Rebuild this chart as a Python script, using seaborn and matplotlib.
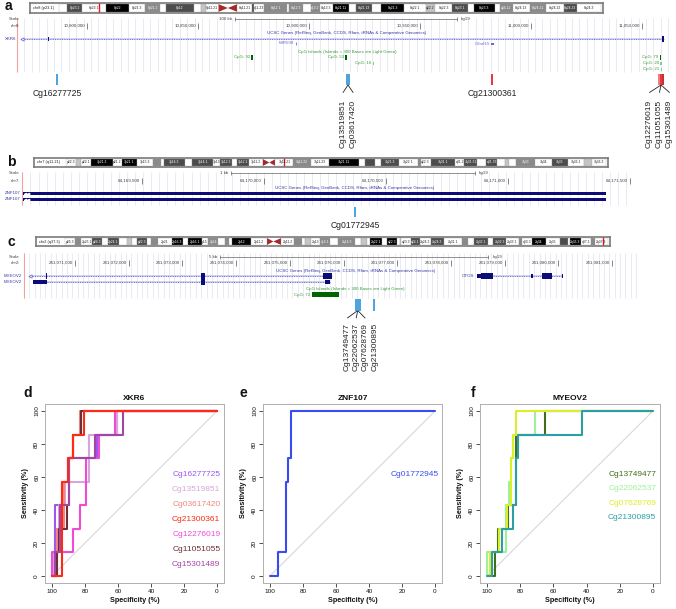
import numpy as np
import pandas as pd
import matplotlib
matplotlib.use("Agg")
import matplotlib.pyplot as plt
import matplotlib.transforms as mtransforms
import seaborn as sns

# ======================= DATA =======================
# --- ideogram bands (band end in Mb, band name, stain) ---
chr8_band_end = [2.2, 6.2, 12.7, 19.0, 23.3, 27.4, 28.8, 36.5, 38.3, 39.7,
                 43.1, 45.6, 48.1, 52.2, 52.6, 55.5, 61.6, 62.2, 66.0, 68.0,
                 70.5, 73.9, 78.3, 80.1, 84.6, 86.9, 93.3, 99.0, 101.6, 106.2,
                 110.5, 112.1, 117.7, 119.2, 122.5, 127.3, 131.5, 136.4, 139.9, 146.4]
chr8_band_name = ['p23.3', 'p23.2', 'p23.1', 'p22', 'p21.3', 'p21.2', 'p21.1', 'p12', 'p11.23', 'p11.22',
                  'p11.21', 'p11.1', 'q11.1', 'q11.21', 'q11.22', 'q11.23', 'q12.1', 'q12.2', 'q12.3', 'q13.1',
                  'q13.2', 'q13.3', 'q21.11', 'q21.12', 'q21.13', 'q21.2', 'q21.3', 'q22.1', 'q22.2', 'q22.3',
                  'q23.1', 'q23.2', 'q23.3', 'q24.11', 'q24.12', 'q24.13', 'q24.21', 'q24.22', 'q24.23', 'q24.3']
chr8_band_stain = ['gneg', 'gpos75', 'gneg', 'gpos100', 'gneg', 'gpos50', 'gneg', 'gpos75', 'gneg', 'gpos25',
                   'gneg', 'acen', 'acen', 'gneg', 'gpos75', 'gneg', 'gpos50', 'gneg', 'gpos50', 'gneg',
                   'gpos50', 'gneg', 'gpos100', 'gneg', 'gpos75', 'gneg', 'gpos100', 'gneg', 'gpos25', 'gneg',
                   'gpos75', 'gneg', 'gpos100', 'gneg', 'gpos50', 'gneg', 'gpos50', 'gneg', 'gpos75', 'gneg']

chr7_band_end = [2.8, 4.5, 7.3, 13.8, 16.5, 20.9, 25.5, 28.0, 28.8, 35.0,
                 37.2, 43.3, 45.4, 49.0, 50.5, 54.0, 58.0, 59.9, 61.7, 67.0,
                 72.2, 77.5, 86.4, 88.2, 91.1, 92.8, 98.0, 103.8, 104.5, 107.4,
                 114.6, 117.4, 121.1, 123.8, 127.1, 129.2, 130.4, 132.6, 138.2, 143.1,
                 147.9, 152.6, 155.1, 159.1]
chr7_band_name = ['p22.3', 'p22.2', 'p22.1', 'p21.3', 'p21.2', 'p21.1', 'p15.3', 'p15.2', 'p15.1', 'p14.3',
                  'p14.2', 'p14.1', 'p13', 'p12.3', 'p12.2', 'p12.1', 'p11.2', 'p11.1', 'q11.1', 'q11.21',
                  'q11.22', 'q11.23', 'q21.11', 'q21.12', 'q21.13', 'q21.2', 'q21.3', 'q22.1', 'q22.2', 'q22.3',
                  'q31.1', 'q31.2', 'q31.31', 'q31.32', 'q31.33', 'q32.1', 'q32.2', 'q32.3', 'q33', 'q34',
                  'q35', 'q36.1', 'q36.2', 'q36.3']
chr7_band_stain = ['gneg', 'gpos25', 'gneg', 'gpos100', 'gneg', 'gpos100', 'gneg', 'gpos50', 'gneg', 'gpos75',
                   'gneg', 'gpos75', 'gneg', 'gpos75', 'gneg', 'gpos75', 'gneg', 'acen', 'acen', 'gneg',
                   'gpos50', 'gneg', 'gpos100', 'gneg', 'gpos75', 'gneg', 'gpos75', 'gneg', 'gpos50', 'gneg',
                   'gpos75', 'gneg', 'gpos75', 'gneg', 'gpos75', 'gneg', 'gpos25', 'gneg', 'gpos50', 'gneg',
                   'gpos75', 'gneg', 'gpos25', 'gneg']

chr2_band_end = [4.4, 7.1, 12.2, 16.7, 19.2, 24.0, 27.9, 30.0, 32.1, 36.6,
                 38.6, 41.8, 47.8, 52.9, 55.0, 61.3, 64.1, 68.6, 71.5, 73.5,
                 75.0, 83.3, 90.5, 93.3, 96.8, 102.7, 106.0, 107.5, 110.2, 114.4,
                 118.8, 122.4, 129.9, 132.5, 135.1, 136.8, 142.2, 144.1, 148.7, 149.9,
                 150.5, 154.9, 159.0, 163.9, 169.7, 178.0, 180.6, 183.0, 189.4, 191.9,
                 197.4, 203.3, 204.9, 209.0, 215.3, 221.5, 225.2, 226.1, 231.0, 235.6,
                 237.3, 243.2]
chr2_band_name = ['p25.3', 'p25.2', 'p25.1', 'p24.3', 'p24.2', 'p24.1', 'p23.3', 'p23.2', 'p23.1', 'p22.3',
                  'p22.2', 'p22.1', 'p21', 'p16.3', 'p16.2', 'p16.1', 'p15', 'p14', 'p13.3', 'p13.2',
                  'p13.1', 'p12', 'p11.2', 'p11.1', 'q11.1', 'q11.2', 'q12.1', 'q12.2', 'q12.3', 'q13',
                  'q14.1', 'q14.2', 'q14.3', 'q21.1', 'q21.2', 'q21.3', 'q22.1', 'q22.2', 'q22.3', 'q23.1',
                  'q23.2', 'q23.3', 'q24.1', 'q24.2', 'q24.3', 'q31.1', 'q31.2', 'q31.3', 'q32.1', 'q32.2',
                  'q32.3', 'q33.1', 'q33.2', 'q33.3', 'q34', 'q35', 'q36.1', 'q36.2', 'q36.3', 'q37.1',
                  'q37.2', 'q37.3']
chr2_band_stain = ['gneg', 'gpos50', 'gneg', 'gpos75', 'gneg', 'gpos75', 'gneg', 'gpos25', 'gneg', 'gpos75',
                   'gneg', 'gpos50', 'gneg', 'gpos100', 'gneg', 'gpos100', 'gneg', 'gpos50', 'gneg', 'gpos50',
                   'gneg', 'gpos100', 'gneg', 'acen', 'acen', 'gneg', 'gpos50', 'gneg', 'gpos25', 'gneg',
                   'gpos50', 'gneg', 'gpos50', 'gneg', 'gpos25', 'gneg', 'gpos100', 'gneg', 'gpos100', 'gneg',
                   'gpos25', 'gneg', 'gpos75', 'gneg', 'gpos75', 'gneg', 'gpos50', 'gneg', 'gpos75', 'gneg',
                   'gpos75', 'gneg', 'gpos50', 'gneg', 'gpos100', 'gneg', 'gpos75', 'gneg', 'gpos100', 'gneg',
                   'gpos50', 'gneg']

ideo_labels = ['chr8 (p23.1)', 'chr7 (q11.21)', 'chr2 (q37.3)']
ideo_marks = [10.92, 64.17, 241.07]

# --- panel a : XKR6 (chr8) ---
a_window = [10768500, 11064000]
a_ticks = [10800000, 10850000, 10900000, 10950000, 11000000, 11050000]
a_scalebar = [10866700, 100000]
a_gene_span = [10770700, 11059900]
a_exon_start = [10782300, 11058900]
a_exon_len = [250, 1000]
a_exon_kind = ['utr', 'cds']
a_mir = ('MIR598', 10894150)
a_small_gene = ('C8orf15', 10982200)
a_cpg_name = ['CpG: 92', 'CpG: 53', 'CpG: 16', 'CpG: 79', 'CpG: 20', 'CpG: 21']
a_cpg_start = [10874000, 10916300, 10928700, 11057900, 11058300, 11058400]
a_cpg_len = [700, 600, 250, 700, 250, 250]
a_probe_name = ['Cg16277725', 'Cg13519851', 'Cg03617420', 'Cg21300361',
                'Cg12276019', 'Cg11051055', 'Cg15301489']
a_probe_pos = [10786500, 10917150, 10918050, 10982400, 11057650, 11058550, 11059450]
a_probe_group = [0, 1, 1, 2, 3, 3, 3]

# --- panel b : ZNF107 (chr7) ---
b_window = [64169010, 64171512]
b_ticks = [64169500, 64170000, 64170500, 64171000, 64171500]
b_scalebar = [64169865, 1000]
b_tx_span = [64169012, 64171401]
b_probe_name = ['Cg01772945']
b_probe_pos = [64170373]

# --- panel c : MYEOV2 (chr2) ---
c_window = [241070050, 241081480]
c_ticks = [241071000, 241072000, 241073000, 241074000, 241075000, 241076000,
           241077000, 241078000, 241079000, 241080000, 241081000]
c_scalebar = [241073700, 5000]
c_tx1_span = [241070160, 241075790]
c_tx1_exon_start = [241070460, 241073340, 241075620]
c_tx1_exon_len = [25, 80, 170]
c_tx1_exon_kind = ['cds', 'cds', 'cds']
c_tx2_span = [241070220, 241075750]
c_tx2_exon_start = [241070220, 241073340, 241075650]
c_tx2_exon_len = [260, 80, 100]
c_tx2_exon_kind = ['utr', 'cds', 'utr']
c_otos_span = [241078480, 241080090]
c_otos_exon_start = [241078480, 241078560, 241079500, 241079700, 241080060]
c_otos_exon_len = [300, 220, 25, 180, 30]
c_otos_exon_kind = ['utr', 'cds', 'utr', 'cds', 'utr']
c_cpg_name = ['CpG: 72']
c_cpg_start = [241075413]
c_cpg_len = [503]
c_probe_name = ['Cg13749477', 'Cg22062537', 'Cg07628769', 'Cg21300895']
c_probe_pos = [241076230, 241076265, 241076300, 241076570]
c_probe_group = [0, 0, 0, 1]

# --- ROC curves (specificity %, sensitivity %) ---
d_names = ['Cg16277725', 'Cg13519851', 'Cg03617420', 'Cg21300361',
           'Cg12276019', 'Cg11051055', 'Cg15301489']
d_spec = [
    [100, 98.4, 98.4, 94, 94, 90, 90, 73, 73, 60.6, 60.6, 0],
    [100, 99, 99, 97, 97, 96, 96, 92, 92, 77.8, 77.8, 60.6, 60.6, 0],
    [100, 97, 97, 93, 93, 90, 90, 87, 87, 82.8, 82.8, 0],
    [100, 94, 94, 90, 90, 87.3, 87.3, 80.8, 80.8, 0],
    [100, 100, 87.3, 87.3, 82.8, 82.8, 79.2, 79.2, 71.3, 71.3, 62, 62, 0],
    [100, 97, 97, 96, 96, 91, 91, 89.9, 89.9, 87.3, 87.3, 82.2, 82.2, 0],
    [100, 98, 98, 95, 95, 89.9, 89.9, 73.7, 73.7, 57.2, 57.2, 0],
]
d_sens = [
    [0, 0, 42.9, 42.9, 57.1, 57.1, 71.4, 71.4, 85.7, 85.7, 100, 100],
    [0, 0, 14.3, 14.3, 28.6, 28.6, 42.9, 42.9, 57.1, 57.1, 85.7, 85.7, 100, 100],
    [0, 0, 28.6, 28.6, 57.1, 57.1, 71.4, 71.4, 85.7, 85.7, 100, 100],
    [0, 0, 57.1, 57.1, 71.4, 71.4, 85.7, 85.7, 100, 100],
    [0, 14.3, 14.3, 28.6, 28.6, 42.9, 42.9, 71.4, 71.4, 85.7, 85.7, 100, 100],
    [0, 0, 14.3, 14.3, 28.6, 28.6, 42.9, 42.9, 71.4, 71.4, 85.7, 85.7, 100, 100],
    [0, 0, 14.3, 14.3, 42.9, 42.9, 71.4, 71.4, 85.7, 85.7, 100, 100],
]
e_names = ['Cg01772945']
e_spec = [[100, 95.4, 95.4, 90.5, 90.5, 88.9, 88.9, 87, 87, 0]]
e_sens = [[0, 0, 14.3, 14.3, 57.1, 57.1, 71.4, 71.4, 100, 100]]
f_names = ['Cg13749477', 'Cg22062537', 'Cg07628769', 'Cg21300895']
f_spec = [
    [100, 95.4, 95.4, 93.3, 93.3, 87.3, 87.3, 82.3, 82.3, 65.1, 65.1, 0],
    [100, 100, 88.7, 88.7, 86.7, 86.7, 85.3, 85.3, 84.3, 84.3, 71.2, 71.2, 0],
    [100, 98, 98, 93, 93, 88, 88, 85.3, 85.3, 84.3, 84.3, 82.3, 82.3, 0],
    [100, 97, 97, 90.7, 90.7, 84.3, 84.3, 82.7, 82.7, 81.3, 81.3, 42.7, 42.7, 0],
]
f_sens = [
    [0, 0, 14.3, 14.3, 28.6, 28.6, 42.9, 42.9, 85.7, 85.7, 100, 100],
    [0, 14.3, 14.3, 42.9, 42.9, 57.1, 57.1, 71.4, 71.4, 85.7, 85.7, 100, 100],
    [0, 0, 14.3, 14.3, 28.6, 28.6, 42.9, 42.9, 71.4, 71.4, 85.7, 85.7, 100, 100],
    [0, 0, 14.3, 14.3, 28.6, 28.6, 42.9, 42.9, 71.4, 71.4, 85.7, 85.7, 100, 100],
]
roc_ticks = [0, 20, 40, 60, 80, 100]

# ======================= STYLE =======================
d_colors = ['#9b57f0', '#d6a6da', '#f2867c', '#ff2a14', '#f24ad8', '#6c2f38', '#a246a6']
e_colors = ['#3a4cf0']
f_colors = ['#3f6e1e', '#9ef09a', '#dcee2a', '#2b9fa6']
BLUE_PROBE = '#3a9bdc'
a_probe_color = [BLUE_PROBE, BLUE_PROBE, BLUE_PROBE, '#e8252b', '#f07070', '#e3262b', '#c81818']
STAIN = {'gneg': '#ffffff', 'gpos25': '#c4c4c4', 'gpos50': '#8a8a8a',
         'gpos75': '#4c4c4c', 'gpos100': '#000000'}
NAVY = '#0c0c78'
GENE_TXT = '#3535a8'
CPG_TXT = '#3a9a3a'
TXT = '#404040'
FS = 3.2
EXON_H = {'cds': 5.5, 'utr': 3.5}

sns.set_theme(style='white')
plt.rcParams['font.family'] = ['Liberation Sans', 'DejaVu Sans']

W, H = 676, 609
fig = plt.figure(figsize=(W / 100, H / 100), dpi=100)


def px_axes(x0, y0, x1, y1):
    return fig.add_axes([x0 / W, 1 - y1 / H, (x1 - x0) / W, (y1 - y0) / H])


def letter(x, y, t):
    fig.text(x / W, 1 - y / H, t, fontsize=10, fontweight='bold', ha='center', va='center', color='#111')


def ideogram(box, band, yy, ends, names, stains, mark, label, num):
    x0, x1 = box
    b0, b1 = band
    ax = px_axes(x0, yy[0], x1, yy[1])
    total = ends[-1]
    sc = total / (b1 - b0)
    ax.set_xlim(-(b0 - x0) * sc, total + (x1 - b1) * sc)
    ax.set_ylim(0, 1)
    starts = [0] + ends[:-1]
    for st, en, nm, sn in zip(starts, ends, names, stains):
        if sn == 'acen':
            if nm.startswith('p'):
                ax.fill([st, st, en], [0.12, 0.88, 0.5], color='#a32a2a', lw=0)
            else:
                ax.fill([st, en, en], [0.5, 0.88, 0.12], color='#a32a2a', lw=0)
            continue
        ax.bar(st, 0.76, width=en - st, bottom=0.12, align='edge', color=STAIN[sn],
               edgecolor='#9a9a9a', lw=0.2)
        wpx = (en - st) / sc
        full = num + nm
        txt = full if len(full) * 1.75 < wpx else (nm if len(nm) * 1.75 < wpx else None)
        if txt:
            ax.text((st + en) / 2, 0.5, txt, ha='center', va='center', fontsize=2.4,
                    color='white' if sn in ('gpos50', 'gpos75', 'gpos100') else '#222')
    ax.axvline(mark, color='#ee1111', lw=1.0)
    ax.text(0.006, 0.5, label, transform=ax.transAxes, ha='left', va='center', fontsize=2.8, color='#222')
    ax.set_xticks([])
    ax.set_yticks([])
    for sp in ax.spines.values():
        sp.set_color('#7a7a7a')
        sp.set_linewidth(1.2)
    return ax


def track(y0, y1, ref0, p0, ref1, p1):
    ax = px_axes(0, y0, W, y1)
    s = (ref1 - ref0) / (p1 - p0)
    ax.set_xlim(ref0 - p0 * s, ref0 + (W - p0) * s)
    ax.set_ylim(y1, y0)
    ax.axis('off')
    bt = mtransforms.blended_transform_factory(ax.transAxes, ax.transData)
    return ax, s, bt


def ruler(ax, s, bt, chrom, window, ticks, scalebar, sb_label, y_scale, y_chr, grid_y, grid_step):
    gx = np.arange(window[0], window[1], grid_step)
    ax.vlines(gx, grid_y[0], grid_y[1], color='#e2e2ee', lw=0.5, zorder=0)
    ax.vlines(window[0], grid_y[0], grid_y[1], color='#f2a0a0', lw=0.8, zorder=1)
    ax.text(20 / W, y_scale, 'Scale', transform=bt, ha='right', va='center', fontsize=FS, color=TXT)
    ax.text(20 / W, y_chr, chrom + ':', transform=bt, ha='right', va='center', fontsize=FS, color=TXT)
    x0, x1 = scalebar[0], scalebar[0] + scalebar[1]
    ax.plot([x0, x1], [y_scale, y_scale], color='#666', lw=0.5)
    ax.vlines([x0, x1], y_scale - 2, y_scale + 2, color='#666', lw=0.5)
    ax.text(x0 - 3 * s, y_scale, sb_label, ha='right', va='center', fontsize=FS, color=TXT)
    ax.text(x1 + 4 * s, y_scale, 'hg19', ha='left', va='center', fontsize=FS, color=TXT)
    for t in ticks:
        ax.vlines(t, y_chr - 3, y_chr + 3, color='#555', lw=0.5)
        ax.text(t - 2 * s, y_chr, f'{t:,}', ha='right', va='center', fontsize=FS, color=TXT)


def gene(ax, s, span, y, starts, lens, kinds, start_mark=False):
    ax.plot(span, [y, y], color='#c4c4ee', lw=1.1, solid_capstyle='butt', zorder=2)
    ax.plot(span, [y, y], color='#5a5ac4', lw=0.7, ls=(0, (0.8, 1.6)), zorder=2)
    for st, ln, k in zip(starts, lens, kinds):
        h = EXON_H[k]
        ax.bar(st, h, width=max(ln, 1.3 * s), bottom=y - h / 2, align='edge',
               color=NAVY, lw=0, zorder=3)
    if start_mark:
        ax.plot([span[0]], [y], marker='<', ms=2.4, mfc='white', mec='#5a5ac4', mew=0.5, zorder=4)


def cpg(ax, s, starts, lens, names, rows):
    for st, ln, nm, r in zip(starts, lens, names, rows):
        col = '#006400' if ln >= 300 else '#7fd07f'
        h = 5 if ln >= 300 else 3
        ax.bar(st, h, width=max(ln, 1.4 * s), bottom=r - h / 2, align='edge', color=col, lw=0)
        ax.text(st - 1.5 * s, r, nm, ha='right', va='center', fontsize=FS, color=CPG_TXT)


def probes(ax, s, names, pos, colors, groups, y_tick, y_lab_h, y_lab_v, spacing,
           rotate_all=False, group_shift=None):
    for g in sorted(set(groups)):
        idx = [i for i, gg in enumerate(groups) if gg == g]
        shift = (group_shift[g] if group_shift else 0) * s
        for i in idx:
            ax.vlines(pos[i], y_tick[0], y_tick[1], color=colors[i], lw=1.3, zorder=3)
        center = np.mean([pos[i] for i in idx])
        n = len(idx)
        if n == 1 and not rotate_all:
            ax.text(center, y_lab_h, names[idx[0]], ha='center', va='center', fontsize=6.2, color='#222')
            continue
        for k, i in enumerate(idx):
            lx = center + shift + (k - (n - 1) / 2) * spacing * s
            if n > 1:
                ax.plot([center, lx], [y_tick[1], y_tick[1] + 7.5], color='#222', lw=0.6)
            ax.text(lx, y_lab_v, names[i], rotation=90, ha='center', va='top', fontsize=6.0, color='#222')


# ======================= PANEL a =======================
letter(8, 6, 'a')
ideogram((30, 603), (59, 601), (3, 13), chr8_band_end, chr8_band_name, chr8_band_stain,
         ideo_marks[0], ideo_labels[0], '8')
axA, sA, btA = track(15, 152, a_ticks[0], 87, a_ticks[-1], 642)
ruler(axA, sA, btA, 'chr8', a_window, a_ticks, a_scalebar, '100 kb', 19, 26, (18, 72), 3333)
axA.text(347 / W, 33, 'UCSC Genes (RefSeq, GenBank, CCDS, Rfam, tRNAs & Comparative Genomics)',
         transform=btA, ha='center', va='center', fontsize=FS, color=GENE_TXT)
axA.text(16 / W, 39, 'XKR6', transform=btA, ha='right', va='center', fontsize=FS, color=GENE_TXT)
gene(axA, sA, a_gene_span, 39, a_exon_start, a_exon_len, a_exon_kind, start_mark=True)
axA.vlines(a_mir[1], 41.5, 45, color='#6a6ad0', lw=0.6)
axA.text(a_mir[1] - 2 * sA, 43.5, a_mir[0], ha='right', va='center', fontsize=FS, color='#6a6ad0')
axA.bar(a_small_gene[1], 2.2, width=2.2 * sA, bottom=43, align='edge', color='#6a6ad0', lw=0)
axA.text(a_small_gene[1] - 1.5 * sA, 44, a_small_gene[0], ha='right', va='center', fontsize=FS, color='#6a6ad0')
axA.text(347 / W, 52, 'CpG Islands (Islands < 300 Bases are Light Green)', transform=btA,
         ha='center', va='center', fontsize=FS, color=CPG_TXT)
cpg(axA, sA, a_cpg_start, a_cpg_len, a_cpg_name, [57, 57, 63, 57, 63, 69])
probes(axA, sA, a_probe_name, a_probe_pos, a_probe_color, a_probe_group,
       (73.5, 85), 93.5, 99.5, 10, group_shift=[0, 0, 0, -1.5])

# ======================= PANEL b =======================
letter(11, 161.5, 'b')
ideogram((34, 608), (66, 606), (158, 167), chr7_band_end, chr7_band_name, chr7_band_stain,
         ideo_marks[1], ideo_labels[1], '7')
axB, sB, btB = track(169, 234, b_ticks[0], 142, b_ticks[-1], 630)
ruler(axB, sB, btB, 'chr7', b_window, b_ticks, b_scalebar, '1 kb', 173, 181, (172, 205), 33)
axB.text(355 / W, 188, 'UCSC Genes (RefSeq, GenBank, CCDS, Rfam, tRNAs & Comparative Genomics)',
         transform=btB, ha='center', va='center', fontsize=FS, color=GENE_TXT)
for yb in (193.5, 199.5):
    axB.bar(b_tx_span[0], 3.8, width=b_tx_span[1] - b_tx_span[0], bottom=yb - 1.9, align='edge',
            color=NAVY, lw=0, zorder=3)
    axB.plot([b_tx_span[0] + 2.2 * sB, b_tx_span[0] + 4.6 * sB], [yb, yb], ls='none', marker='<',
             ms=1.7, color='white', zorder=4)
    axB.text(21 / W, yb, 'ZNF107', transform=btB, ha='right', va='center', fontsize=FS, color=GENE_TXT)
probes(axB, sB, b_probe_name, b_probe_pos, [BLUE_PROBE], [0], (207, 217), 225, 230, 10)

# ======================= PANEL c =======================
letter(11, 242.5, 'c')
ideogram((36, 610), (65, 608), (237, 246), chr2_band_end, chr2_band_name, chr2_band_stain,
         ideo_marks[2], ideo_labels[2], '2')
axC, sC, btC = track(249, 376, c_ticks[0], 75, c_ticks[-1], 612)
ruler(axC, sC, btC, 'chr2', c_window, c_ticks, c_scalebar, '5 kb', 257, 263, (253, 298), 100)
axC.text(356 / W, 271, 'UCSC Genes (RefSeq, GenBank, CCDS, Rfam, tRNAs & Comparative Genomics)',
         transform=btC, ha='center', va='center', fontsize=FS, color=GENE_TXT)
gene(axC, sC, c_tx1_span, 276, c_tx1_exon_start, c_tx1_exon_len, c_tx1_exon_kind, start_mark=True)
gene(axC, sC, c_tx2_span, 282, c_tx2_exon_start, c_tx2_exon_len, c_tx2_exon_kind)
axC.text(22 / W, 276, 'MYEOV2', transform=btC, ha='right', va='center', fontsize=FS, color=GENE_TXT)
axC.text(22 / W, 282, 'MYEOV2', transform=btC, ha='right', va='center', fontsize=FS, color=GENE_TXT)
gene(axC, sC, c_otos_span, 276, c_otos_exon_start, c_otos_exon_len, c_otos_exon_kind)
axC.text(c_otos_span[0] - 3 * sC, 276, 'OTOS', ha='right', va='center', fontsize=FS, color=GENE_TXT)
axC.text(355 / W, 289, 'CpG Islands (Islands < 300 Bases are Light Green)', transform=btC,
         ha='center', va='center', fontsize=FS, color=CPG_TXT)
cpg(axC, sC, c_cpg_start, c_cpg_len, c_cpg_name, [294.5])
probes(axC, sC, c_probe_name, c_probe_pos, [BLUE_PROBE] * 4, c_probe_group,
       (299, 310.5), 320, 323, 8.8, rotate_all=True, group_shift=[-1.5, 1.5])


# ======================= ROC PANELS =======================
def roc(box, title, names, specs, senss, colors, draw_order, leg_y0, leg_step):
    ax = px_axes(*box)
    rows = []
    for n, sp, se in zip(names, specs, senss):
        for k, (a, b) in enumerate(zip(sp, se)):
            rows.append({'probe': n, 'step': k, 'spec': a, 'sens': b})
    df = pd.DataFrame(rows)
    ax.plot([100, 0], [0, 100], color='#d8d8d8', lw=0.8, zorder=1)
    sns.lineplot(data=df, x='spec', y='sens', hue='probe', hue_order=draw_order,
                 estimator=None, sort=False, palette=dict(zip(names, colors)),
                 lw=1.5, legend=False, ax=ax, zorder=2)
    ax.set_xlim(104, -4)
    ax.set_ylim(-4, 104)
    ax.set_xticks(roc_ticks[::-1])
    ax.set_xticklabels([str(t) for t in roc_ticks[::-1]])
    ax.set_yticks(roc_ticks)
    ax.set_yticklabels([str(t) for t in roc_ticks], rotation=90, va='center')
    ax.tick_params(bottom=True, left=True, length=2.9, width=0.6, color='#333',
                   pad=1.6, labelsize=4.6, labelcolor='#111')
    for side, sp in ax.spines.items():
        sp.set_visible(True)
        sp.set_color('#b0b0b0')
        sp.set_linewidth(0.7)
    ax.set_xlabel('Specificity (%)', fontsize=5.2, fontweight='bold', labelpad=2.0, color='#111')
    ax.set_ylabel('Sensitivity (%)', fontsize=5.2, fontweight='bold', labelpad=3.4, color='#111')
    ax.set_title(title, fontsize=6, fontweight='bold', pad=3.2, color='#111')
    for i, (n, c) in enumerate(zip(names, colors)):
        ax.text(-2, leg_y0 - i * leg_step, n, color=c, ha='right', va='center', fontsize=6)
    return ax


d_order = [n for n in d_names if n != 'Cg21300361'] + ['Cg21300361']
roc((45.4, 404.4, 223.6, 582.6), 'XKR6', d_names, d_spec, d_sens, d_colors, d_order, 61.8, 9.1)
roc((263.4, 404.4, 441.6, 582.6), 'ZNF107', e_names, e_spec, e_sens, e_colors, e_names, 61.8, 9.1)
roc((480.4, 404.4, 659.6, 582.6), 'MYEOV2', f_names, f_spec, f_sens, f_colors, f_names, 61.8, 8.8)
letter(28, 393, 'd')
letter(243, 393, 'e')
letter(473, 393, 'f')

fig.savefig('out.png', dpi=100)
